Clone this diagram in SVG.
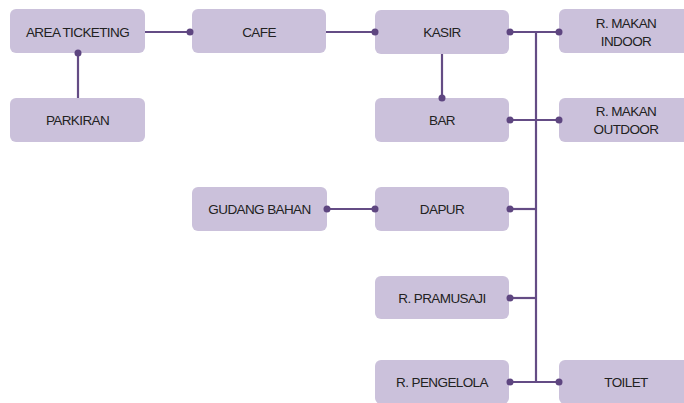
<svg xmlns="http://www.w3.org/2000/svg" width="684" height="403" viewBox="0 0 684 403">
<style>
.n rect{fill:#CBC1DB;}
.n text{font-family:"Liberation Sans",Arial,sans-serif;font-size:13.5px;fill:#222;text-anchor:middle;letter-spacing:-0.6px;}
.c line{stroke:#644C85;stroke-width:2.2;}
.c circle{fill:#5E4680;}
</style>
<rect width="684" height="403" fill="#fff"/>
<g class="n" id="area-ticketing"><rect x="10" y="9" width="135" height="44" rx="6"/><text x="77.5" y="37">AREA TICKETING</text></g>
<g class="n" id="parkiran"><rect x="10" y="98" width="135" height="44" rx="6"/><text x="77.5" y="125">PARKIRAN</text></g>
<g class="n" id="cafe"><rect x="192" y="9" width="134" height="44" rx="6"/><text x="259" y="37">CAFE</text></g>
<g class="n" id="kasir"><rect x="375" y="10" width="134" height="44" rx="6"/><text x="442" y="37">KASIR</text></g>
<g class="n" id="bar"><rect x="375" y="98" width="134" height="44" rx="6"/><text x="442" y="125">BAR</text></g>
<g class="n" id="r-makan-indoor"><rect x="559" y="9" width="134" height="44" rx="6"/><text x="626" y="28">R. MAKAN</text><text x="626" y="46">INDOOR</text></g>
<g class="n" id="r-makan-outdoor"><rect x="559" y="98" width="134" height="44" rx="6"/><text x="626" y="116">R. MAKAN</text><text x="626" y="134">OUTDOOR</text></g>
<g class="n" id="gudang-bahan"><rect x="192" y="187" width="135" height="44" rx="6"/><text x="259.5" y="214">GUDANG BAHAN</text></g>
<g class="n" id="dapur"><rect x="375" y="187" width="134" height="44" rx="6"/><text x="442" y="214">DAPUR</text></g>
<g class="n" id="r-pramusaji"><rect x="375" y="276" width="134" height="43" rx="6"/><text x="442" y="303">R. PRAMUSAJI</text></g>
<g class="n" id="r-pengelola"><rect x="375" y="360" width="134" height="44" rx="6"/><text x="442" y="387">R. PENGELOLA</text></g>
<g class="n" id="toilet"><rect x="559" y="360" width="134" height="44" rx="6"/><text x="626" y="387">TOILET</text></g>
<g class="c" id="connectors">
<line x1="145" y1="32" x2="190" y2="32"/><circle cx="190" cy="32" r="3.5"/>
<line x1="78" y1="53" x2="78" y2="98"/><circle cx="78" cy="53" r="3.5"/>
<line x1="326" y1="32" x2="375" y2="32"/><circle cx="375" cy="32" r="3.5"/>
<line x1="442" y1="54" x2="442" y2="98"/><circle cx="442" cy="98" r="3.5"/>
<line x1="510" y1="32" x2="559" y2="32"/><circle cx="510" cy="32" r="3.5"/><circle cx="559" cy="32" r="3.5"/>
<line x1="536" y1="32" x2="536" y2="382"/>
<line x1="510" y1="120" x2="559" y2="120"/><circle cx="510" cy="120" r="3.5"/><circle cx="559" cy="120" r="3.5"/>
<line x1="327" y1="209" x2="375" y2="209"/><circle cx="327" cy="209" r="3.5"/><circle cx="375" cy="209" r="3.5"/>
<line x1="510" y1="209" x2="536" y2="209"/><circle cx="510" cy="209" r="3.5"/>
<line x1="510" y1="298" x2="536" y2="298"/><circle cx="510" cy="298" r="3.5"/>
<line x1="510" y1="382" x2="559" y2="382"/><circle cx="510" cy="382" r="3.5"/><circle cx="559" cy="382" r="3.5"/>
</g>
</svg>
